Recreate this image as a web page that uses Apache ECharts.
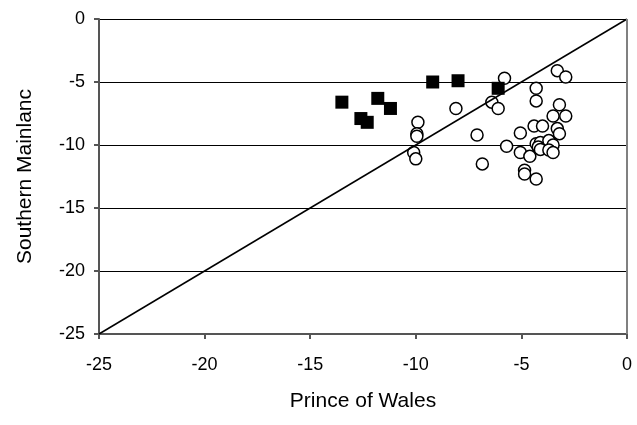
<!DOCTYPE html>
<html>
<head>
<meta charset="utf-8">
<script src="https://cdn.jsdelivr.net/npm/echarts@6/dist/echarts.min.js"></script>
<style>html,body{margin:0;padding:0;background:#fff}#c{width:637px;height:425px}</style>
</head>
<body>
<div id="c"></div>
<script>
var xName = 'Prince of Wales';
var yName = 'Southern Mainlanc';
var axisMin = -25, axisMax = 0, axisStep = 5;

var squarePoints = [
  [-13.5, -6.6], [-12.6, -7.9], [-12.3, -8.2], [-11.8, -6.3],
  [-11.2, -7.1], [-9.2, -5.0], [-8.0, -4.9], [-6.1, -5.5]
];

var circlePoints = [
  [-5.8, -4.7], [-3.3, -4.1], [-2.9, -4.6], [-4.3, -5.5], [-4.3, -6.5],
  [-6.4, -6.6], [-6.1, -7.1], [-8.1, -7.1], [-3.2, -6.8], [-3.5, -7.7],
  [-2.9, -7.7], [-9.9, -8.2], [-4.4, -8.5], [-4.0, -8.5], [-3.3, -8.7],
  [-9.95, -9.1], [-9.95, -9.3], [-7.1, -9.2], [-5.05, -9.05], [-3.2, -9.1],
  [-10.1, -10.6], [-10.0, -11.1], [-5.7, -10.1], [-4.3, -9.9], [-4.1, -9.8],
  [-4.2, -10.15], [-4.1, -10.35], [-3.7, -9.65], [-3.5, -10.0], [-3.7, -10.4],
  [-3.5, -10.6], [-5.05, -10.6], [-4.6, -10.9], [-6.85, -11.5], [-4.85, -12.0],
  [-4.85, -12.3], [-4.3, -12.7]
];

var diagonal = [[-25, -25], [0, 0]];

var font = 'Liberation Sans, Arial, sans-serif';
var chart = echarts.init(document.getElementById('c'));
chart.setOption({
  animation: false,
  backgroundColor: '#fff',
  grid: {left: 99, right: 10, top: 19, bottom: 91},
  xAxis: {
    type: 'value', min: axisMin, max: axisMax, interval: axisStep,
    name: xName, nameLocation: 'middle', nameGap: 57,
    nameTextStyle: {fontFamily: font, fontSize: 21, color: '#000'},
    axisLine: {show: true, onZero: false, lineStyle: {color: '#555', width: 2}},
    axisTick: {show: true, length: 5, lineStyle: {color: '#555', width: 2}},
    axisLabel: {fontFamily: font, fontSize: 18, color: '#000', margin: 22},
    splitLine: {show: false}
  },
  yAxis: {
    type: 'value', min: axisMin, max: axisMax, interval: axisStep,
    name: yName, nameLocation: 'middle', nameGap: 63,
    nameTextStyle: {fontFamily: font, fontSize: 21, color: '#000'},
    axisLine: {show: true, onZero: false, lineStyle: {color: '#555', width: 2}},
    axisTick: {show: true, length: 5, lineStyle: {color: '#555', width: 2}},
    axisLabel: {fontFamily: font, fontSize: 18, color: '#000', margin: 14},
    splitLine: {show: true, lineStyle: {color: '#000', width: 1}}
  },
  series: [
    {
      type: 'line', data: diagonal, symbol: 'none', silent: true,
      lineStyle: {color: '#000', width: 1.5},
      markLine: {
        silent: true, symbol: 'none', label: {show: false},
        lineStyle: {color: '#808080', width: 2, type: 'solid'},
        data: [{xAxis: axisMax}]
      }
    },
    {
      type: 'scatter', data: circlePoints, symbol: 'circle', symbolSize: 12,
      itemStyle: {color: '#fff', borderColor: '#000', borderWidth: 1.5, opacity: 1}
    },
    {
      type: 'scatter', data: squarePoints, symbol: 'rect', symbolSize: 13,
      itemStyle: {color: '#000', opacity: 1}
    }
  ]
});
</script>
</body>
</html>
